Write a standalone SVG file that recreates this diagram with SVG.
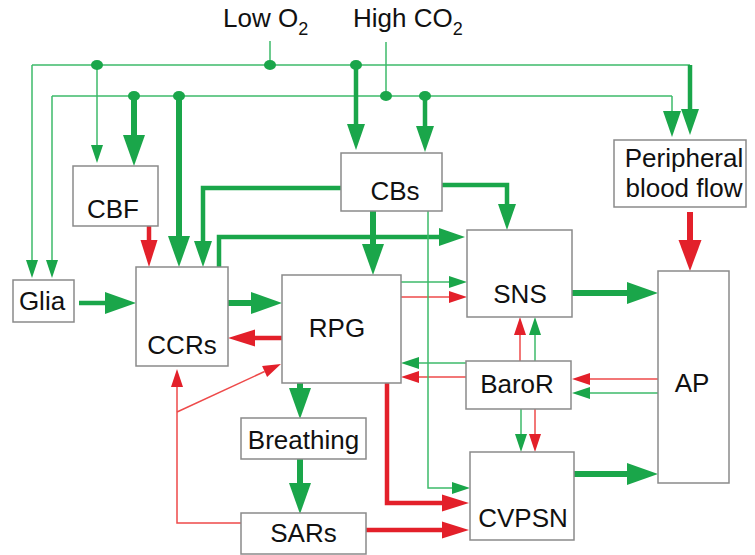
<svg xmlns="http://www.w3.org/2000/svg" width="755" height="555" viewBox="0 0 755 555">
<style>
.box{fill:#fff;stroke:#8a8a8a;stroke-width:1.5}
.t{font-family:"Liberation Sans",Arial,Helvetica,sans-serif;font-size:26px;fill:#111;text-anchor:middle}
.lbl{font-family:"Liberation Sans",Arial,Helvetica,sans-serif;font-size:26px;fill:#111}
.g{fill:none;stroke:#1aa64a}
.r{fill:none;stroke:#e3202a}
.gt{fill:none;stroke:#3dba6a;stroke-width:1.5}
.rt{fill:none;stroke:#ee4a4a;stroke-width:1.5}
.tk{stroke-width:6}
.md{stroke-width:4.5}
.dot{fill:#1aa64a}
</style>
<defs>
<marker id="gL" markerUnits="userSpaceOnUse" markerWidth="32" markerHeight="24" refX="0" refY="12" orient="auto" overflow="visible"><path d="M0 1 L31 12 L0 23 Z" fill="#1aa64a"/></marker>
<marker id="gM" markerUnits="userSpaceOnUse" markerWidth="27" markerHeight="20" refX="0" refY="10" orient="auto" overflow="visible"><path d="M0 1 L26 10 L0 19 Z" fill="#1aa64a"/></marker>
<marker id="gS" markerUnits="userSpaceOnUse" markerWidth="19" markerHeight="14" refX="0" refY="7" orient="auto" overflow="visible"><path d="M0 1 L18 7 L0 13 Z" fill="#1aa64a"/></marker>
<marker id="rL" markerUnits="userSpaceOnUse" markerWidth="32" markerHeight="24" refX="0" refY="12" orient="auto" overflow="visible"><path d="M0 0.5 L31 12 L0 23.5 Z" fill="#e3202a"/></marker>
<marker id="rM" markerUnits="userSpaceOnUse" markerWidth="28" markerHeight="20" refX="0" refY="10" orient="auto" overflow="visible"><path d="M0 1.5 L27 10 L0 18.5 Z" fill="#e3202a"/></marker>
<marker id="rS" markerUnits="userSpaceOnUse" markerWidth="19" markerHeight="14" refX="0" refY="7" orient="auto" overflow="visible"><path d="M0 1 L18 7 L0 13 Z" fill="#e3202a"/></marker>
</defs>

<g id="connectors">
<path class="gt" d="M32 65 H690"/>
<path class="gt" d="M52 96 H672"/>
<path class="gt" d="M270 41 V65"/>
<path class="gt" d="M386 42 V96"/>
<path class="gt" d="M32 65 V260" marker-end="url(#gS)"/>
<path class="gt" d="M52 96 V260" marker-end="url(#gS)"/>
<path class="gt" d="M97 65 V145" marker-end="url(#gS)"/>
<path class="g md" d="M356 65 V124" marker-end="url(#gM)"/>
<path class="g md" d="M690 65 V109" marker-end="url(#gM)"/>
<path class="gt" d="M672 96 V111" marker-end="url(#gM)"/>
<path class="g tk" d="M134 96 V135" marker-end="url(#gL)"/>
<path class="g tk" d="M179 96 V236" marker-end="url(#gL)"/>
<path class="g md" d="M425 96 V126" marker-end="url(#gM)"/>
<ellipse class="dot" cx="97" cy="65" rx="6" ry="5"/>
<ellipse class="dot" cx="270" cy="65" rx="6" ry="5"/>
<ellipse class="dot" cx="356" cy="65" rx="6" ry="5"/>
<ellipse class="dot" cx="134" cy="96" rx="6" ry="5"/>
<ellipse class="dot" cx="179" cy="96" rx="6" ry="5"/>
<ellipse class="dot" cx="386" cy="96" rx="6" ry="5"/>
<ellipse class="dot" cx="425" cy="96" rx="6" ry="5"/>

<path class="r md" d="M149 226 V240" marker-end="url(#rM)"/>
<path class="g md" d="M341 188 H203 V241" marker-end="url(#gM)"/>
<path class="g md" d="M219 267 V237 H439" marker-end="url(#gM)"/>
<path class="g tk" d="M373 211 V244" marker-end="url(#gL)"/>
<path class="g md" d="M442 185 H507 V204" marker-end="url(#gM)"/>
<path class="g md" d="M79 303 H105" marker-end="url(#gL)"/>
<path class="g tk" d="M228 303 H251" marker-end="url(#gL)"/>
<path class="r md" d="M282 338 H255" marker-end="url(#rM)"/>
<path class="gt" d="M401 282 H449" marker-end="url(#gS)"/>
<path class="rt" d="M401 297 H449" marker-end="url(#rS)"/>
<path class="g tk" d="M572 293 H627" marker-end="url(#gL)"/>
<path class="r tk" d="M690 212 V240" marker-end="url(#rL)"/>
<path class="rt" d="M520 361 V335" marker-end="url(#rS)"/>
<path class="gt" d="M535 361 V335" marker-end="url(#gS)"/>
<path class="gt" d="M466 363 H419" marker-end="url(#gS)"/>
<path class="rt" d="M466 377 H419" marker-end="url(#rS)"/>
<path class="gt" d="M521 409 V434" marker-end="url(#gS)"/>
<path class="rt" d="M535 409 V434" marker-end="url(#rS)"/>
<path class="rt" d="M658 379 H590" marker-end="url(#rS)"/>
<path class="gt" d="M658 393 H590" marker-end="url(#gS)"/>
<path class="rt" d="M677 403 V428" marker-end="url(#rS)"/>
<path class="gt" d="M698 446 V421" marker-end="url(#gS)"/>
<path class="g tk" d="M574 474 H627" marker-end="url(#gL)"/>
<path class="gt" d="M428 211 V488 H452" marker-end="url(#gS)"/>
<path class="r md" d="M387 383 V503 H442" marker-end="url(#rM)"/>
<path class="r md" d="M366 530 H442" marker-end="url(#rM)"/>
<path class="g tk" d="M300 383 V388" marker-end="url(#gL)"/>
<path class="g tk" d="M300 459 V483" marker-end="url(#gL)"/>
<path class="rt" d="M241 523 H177 V387" marker-end="url(#rS)"/>
<path class="rt" d="M177 412 L264.6 371.5" marker-end="url(#rS)"/>
</g>

<g id="labels">
<text class="lbl" x="223" y="27">Low O<tspan font-size="18" dy="8">2</tspan></text>
<text class="lbl" x="353" y="27">High CO<tspan font-size="18" dy="8">2</tspan></text>
</g>

<g id="CBF"><rect class="box" x="73" y="166" width="85" height="60"/><text class="t" x="113" y="218">CBF</text></g>
<g id="Glia"><rect class="box" x="13" y="280" width="61" height="42"/><text class="t" x="42" y="310">Glia</text></g>
<g id="CCRs"><rect class="box" x="136" y="267" width="92" height="99"/><text class="t" x="182" y="354">CCRs</text></g>
<g id="RPG"><rect class="box" x="282" y="275" width="119" height="108"/><text class="t" x="337" y="337">RPG</text></g>
<g id="CBs"><rect class="box" x="341" y="153" width="101" height="58"/><text class="t" x="395" y="200">CBs</text></g>
<g id="Peripheral"><rect class="box" x="614" y="140" width="132" height="67"/><text class="t" x="684" y="167">Peripheral</text><text class="t" x="684" y="197">blood flow</text></g>
<g id="SNS"><rect class="box" x="467" y="230" width="105" height="87"/><text class="t" x="520" y="303">SNS</text></g>
<g id="AP"><rect class="box" x="658" y="271" width="71" height="212"/><text class="t" x="692" y="392">AP</text></g>
<g id="BaroR"><rect class="box" x="466" y="361" width="105" height="48"/><text class="t" x="517" y="393">BaroR</text></g>
<g id="CVPSN"><rect class="box" x="470" y="452" width="104" height="88"/><text class="t" x="523" y="527">CVPSN</text></g>
<g id="Breathing"><rect class="box" x="241" y="418" width="125" height="41"/><text class="t" x="303.5" y="449">Breathing</text></g>
<g id="SARs"><rect class="box" x="241" y="513" width="125" height="41"/><text class="t" x="303.5" y="542">SARs</text></g>
</svg>
